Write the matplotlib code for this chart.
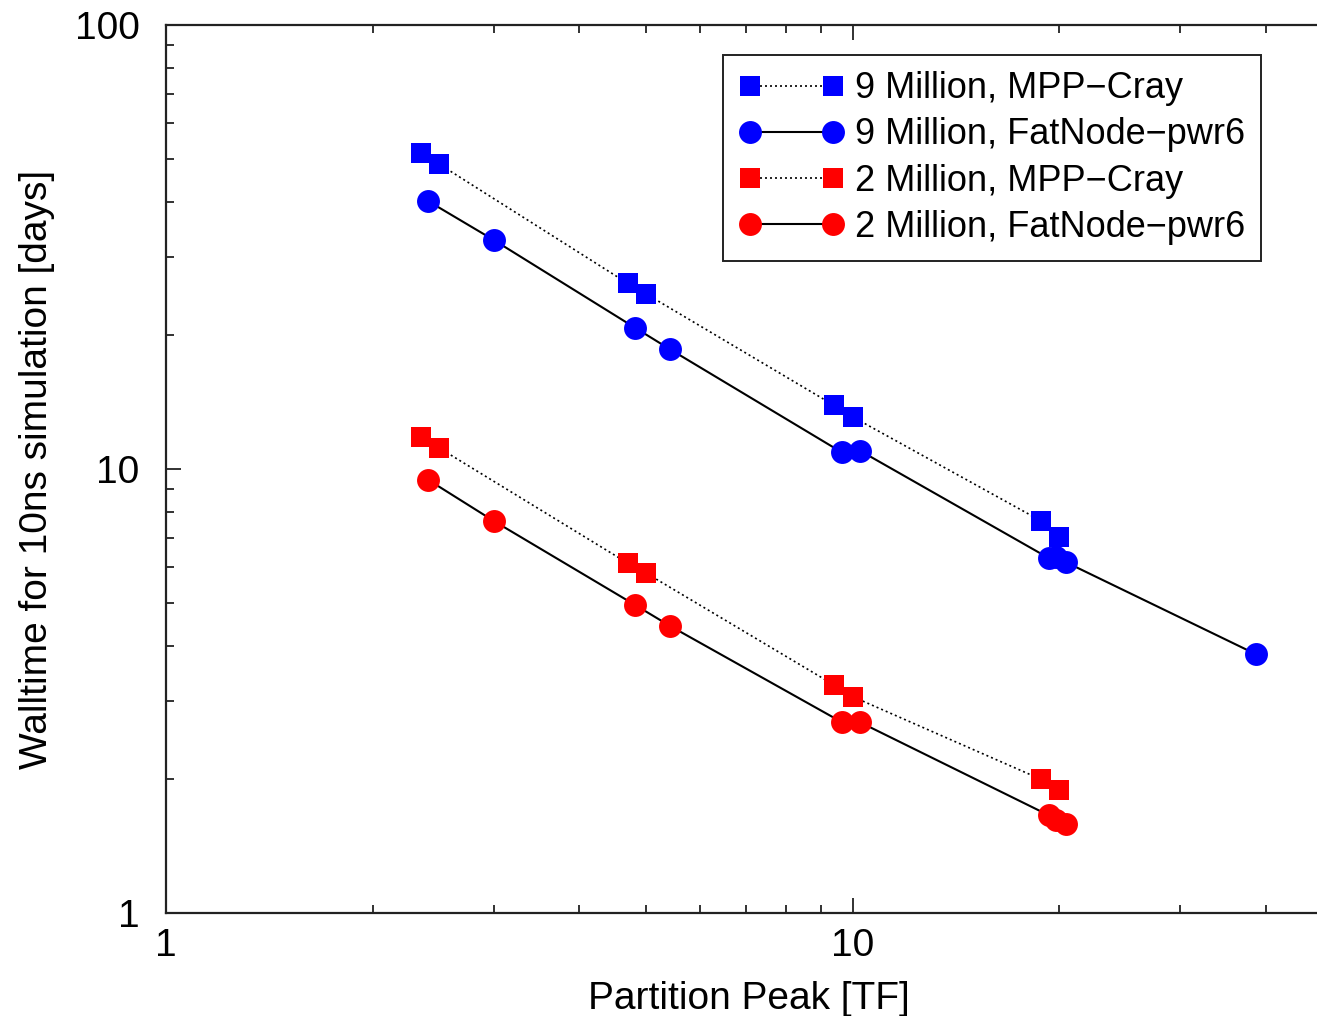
import matplotlib
matplotlib.use('Agg')
from matplotlib import pyplot as plt
from matplotlib.ticker import LogLocator, FuncFormatter, NullFormatter

plt.rcParams['font.family'] = ['Liberation Sans', 'DejaVu Sans']

# partition peak [TF]
mpp_x = [2.35, 2.5, 4.7, 5.0, 9.4, 10.0, 18.8, 20.0]
fat9_x = [2.41, 3.0, 4.82, 5.42, 9.64, 10.24, 19.29, 19.8, 20.42, 38.6]
fat2_x = [2.41, 3.0, 4.82, 5.42, 9.64, 10.24, 19.29, 19.8, 20.42]

# walltime [days]
mpp9_y = [51.5, 48.6, 26.2, 24.8, 13.9, 13.1, 7.64, 7.03]
fat9_y = [40.1, 32.8, 20.8, 18.6, 10.9, 11.0, 6.30, 6.33, 6.17, 3.83]
mpp2_y = [11.8, 11.15, 6.14, 5.83, 3.26, 3.07, 2.00, 1.89]
fat2_y = [9.45, 7.64, 4.94, 4.43, 2.69, 2.69, 1.66, 1.62, 1.59]

labels = ['9 Million, MPP\u2212Cray', '9 Million, FatNode\u2212pwr6',
          '2 Million, MPP\u2212Cray', '2 Million, FatNode\u2212pwr6']

fig = plt.figure(figsize=(13.17, 10.16), dpi=100)
ax = fig.add_axes([0.126, 0.1014, 0.886, 0.874])

sq = dict(marker='s', markersize=14, markeredgewidth=0, color='black',
          linestyle=(0, (1.2, 1.8)), linewidth=1.2)
ci = dict(marker='o', markersize=16.5, markeredgewidth=0, color='black',
          linestyle='-', linewidth=1.5)

ax.plot(mpp_x, mpp9_y, markerfacecolor='#0000ff', label=labels[0], **sq)
ax.plot(fat9_x, fat9_y, markerfacecolor='#0000ff', label=labels[1], **ci)
ax.plot(mpp_x, mpp2_y, markerfacecolor='#ff0000', label=labels[2], **sq)
ax.plot(fat2_x, fat2_y, markerfacecolor='#ff0000', label=labels[3], **ci)

ax.set_xscale('log')
ax.set_yscale('log')
ax.set_xlim(1, 50)
ax.set_ylim(1, 100)

fmt = FuncFormatter(lambda v, p: '%g' % v)
for axis in (ax.xaxis, ax.yaxis):
    axis.set_major_locator(LogLocator(base=10))
    axis.set_minor_locator(LogLocator(base=10, subs=range(2, 10)))
    axis.set_major_formatter(fmt)
    axis.set_minor_formatter(NullFormatter())

ax.tick_params(which='both', direction='in', top=True, right=True, width=1.3, colors='#222222',
               labelcolor='black')
ax.tick_params(which='major', length=11, labelsize=28)
ax.tick_params(which='minor', length=6)
ax.tick_params(axis='x', pad=11)
ax.tick_params(axis='y', pad=19)
for s in ax.spines.values():
    s.set_linewidth(1.6)
    s.set_color('#222222')

ax.set_xlabel('Partition Peak [TF]', fontsize=28, labelpad=12)
ax.set_ylabel('Walltime for 10ns simulation [days]', fontsize=28, labelpad=14)

leg = ax.legend(loc='upper right', bbox_to_anchor=(0.9575, 0.9459), bbox_transform=fig.transFigure,
                borderaxespad=0, numpoints=2, fontsize=26, handlelength=2.9, handletextpad=0.3,
                labelspacing=0.31, borderpad=0.45, fancybox=False, framealpha=1, edgecolor='#222222')
leg.get_frame().set_linewidth(1.4)

fig.savefig('out.png', dpi=100)
